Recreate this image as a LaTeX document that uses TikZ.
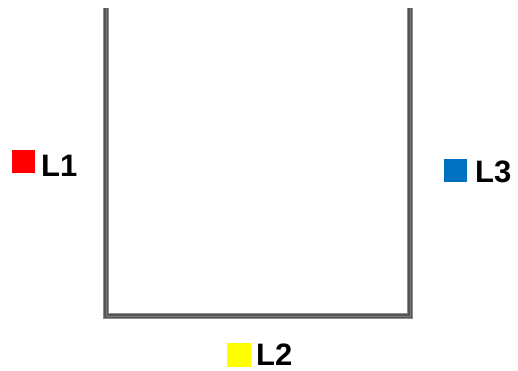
\documentclass[tikz,border=0pt]{standalone}
\usepackage{fontspec}
\setmainfont{Liberation Sans}
\definecolor{wallout}{HTML}{8C8C8C}
\definecolor{wallin}{HTML}{555555}
\definecolor{wallmid}{HTML}{7A7A7A}
\definecolor{lred}{HTML}{FF0000}
\definecolor{lyellow}{HTML}{FFFF00}
\definecolor{lblue}{HTML}{0070C0}
\begin{document}
\begin{tikzpicture}[x=1pt,y=-1pt,
  legsq/.style={draw=none,minimum size=23pt,inner sep=0pt,outer sep=0pt},
  legtxt/.style={anchor=base west,inner sep=0pt,font=\fontsize{31pt}{32pt}\selectfont\bfseries},
  wall/.style={line join=miter,line cap=butt}]
\useasboundingbox (0,0) rectangle (518,370);
\fill[white] (0,0) rectangle (518,370);
% container walls
\draw[wall,wallout,line width=6.5pt] (106,8) -- (106,316) -- (410,316) -- (410,8);
\draw[wall,wallin,line width=3.5pt] (106,8) -- (106,316) -- (410,316) -- (410,8);
\draw[wall,wallmid,line width=1pt] (106,8) -- (106,316) -- (410,316) -- (410,8);
% legend
\node[legsq,fill=lred] (s1) at (23.5,161.5) {};
\node[legtxt] (t1) at (41,176) {L1};
\node[legsq,fill=lyellow,minimum size=24pt] (s2) at (239,354.5) {};
\node[legtxt] (t2) at (256,365.5) {L2};
\node[legsq,fill=lblue] (s3) at (455,170.5) {};
\node[legtxt] (t3) at (475,182) {L3};
\end{tikzpicture}
\end{document}
